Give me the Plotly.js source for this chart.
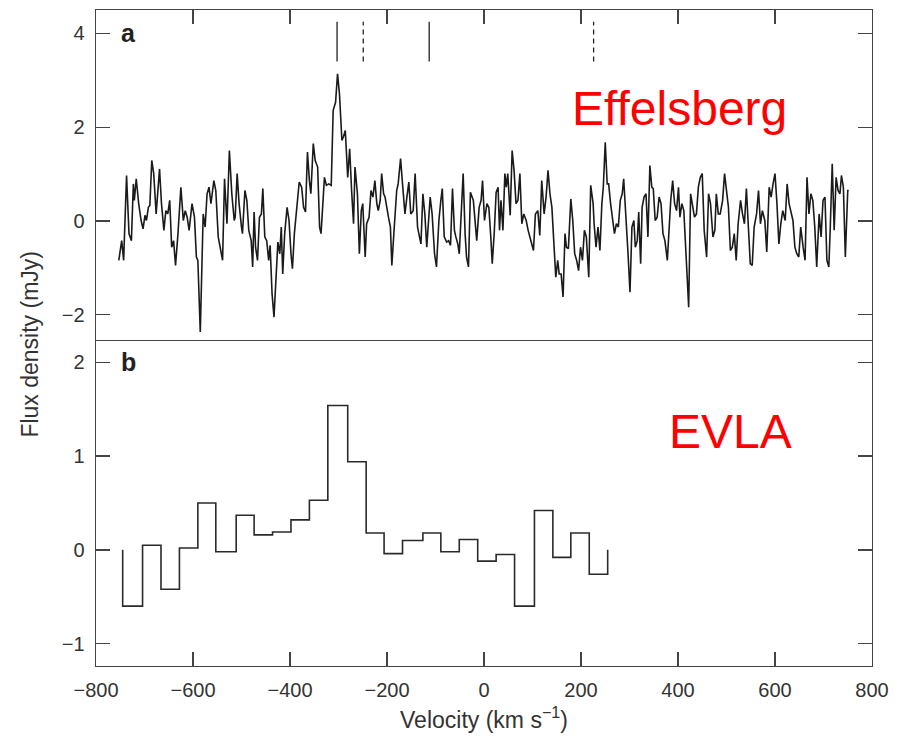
<!DOCTYPE html>
<html>
<head>
<meta charset="utf-8">
<script src="https://cdn.plot.ly/plotly-3.0.1.min.js"></script>
<style>html,body{margin:0;padding:0;background:#fff;}#chart{width:913px;height:741px;}</style>
</head>
<body>
<div id="chart"></div>
<script>
// Panel a: Effelsberg spectrum (velocity km/s, flux density mJy)
const effVel = [-753,-747,-743,-737,-732,-727,-723,-721,-717,-712,-707,-703,-699,-696,-692,-689,-685,-681,-676,-669,-665,-660,-656,-652,-648,-644,-640,-636,-631,-625,-620,-616,-612,-608,-602,-597,-593,-590,-585,-579,-575,-571,-567,-563,-557,-553,-548,-544,-539,-535,-530,-525,-520,-515,
-513,-509,-505,-500,-498,-493,-489,-485,-480,-477,-474,-471,-467,-463,-459,-456,-452,-448,-444,-441,-437,-433,-429,-425,-421,-418,-415,-411,-406,-402,-398,-395,-391,-386,-381,-376,-372,-368,-364,-360,-357,-352,-348,-343,-339,-336,-332,-329,-325,-320,-315,-311,-306,-302,-298,-293,-290,-286,-281,-277,-273,-269,
-266,-261,-257,-253,-250,-245,-242,-237,-233,-229,-225,-221,-218,-214,-211,-207,-204,-201,-197,-193,-190,-185,-180,-177,-172,-168,-163,-159,-155,-151,-146,-142,-137,-133,-130,-126,-122,-118,-115,-111,-107,-102,-98,-93,-89,-86,-82,-77,-73,-69,-65,-61,-58,-54,-51,-47,-43,-39,-36,-32,-28,-22,
-19,-15,-10,-6,-3,1,6,10,14,17,21,25,29,32,35,39,43,46,49,54,58,62,66,70,74,78,82,87,91,97,102,106,111,115,119,124,128,132,136,140,144,148,152,155,159,163,167,170,174,179,183,187,191,195,199,203,207,211,216,220,225,
227,231,235,239,243,246,250,254,257,261,265,269,273,277,281,285,288,292,297,301,305,309,312,316,319,323,326,330,334,338,342,346,349,353,357,361,365,369,373,378,382,385,389,393,397,401,404,408,412,417,422,426,430,434,438,442,446,450,454,459,463,467,472,
476,479,483,487,492,496,500,504,508,512,516,520,524,529,533,537,541,545,549,553,557,562,566,570,574,579,583,588,592,596,600,604,608,612,616,621,625,629,633,637,641,645,649,653,658,662,666,670,674,678,682,686,691,695,699,703,707,711,714,718,722,726,730,734,737,741,745,750,752];
const effFlux = [-0.84,-0.42,-0.84,0.97,-0.27,-0.42,0.79,0.44,0.90,0.37,0.01,-0.17,0.12,0.01,0.29,0.33,1.29,1.01,0.15,1.11,0.37,-0.20,0.22,0.15,0.44,-0.56,-0.42,-0.95,-0.27,0.72,0.01,0.22,0.08,-0.20,0.37,0.08,-0.77,-0.84,-2.37,0.15,-0.13,0.58,0.72,0.37,0.86,0.65,-0.34,-0.56,-0.84,0.90,-0.06,1.50,0.58,0.01,
0.08,1.01,0.37,-0.13,-0.27,0.65,0.44,-0.20,-0.42,-0.98,0.19,-0.56,-0.84,0.08,0.15,0.69,-0.34,-0.42,-0.84,-0.52,-1.55,-2.05,-1.13,-0.45,-0.70,-0.13,-1.13,-0.27,0.29,0.01,-0.70,-1.02,-0.27,0.37,0.83,0.72,0.29,0.19,1.47,0.86,0.58,1.65,1.29,1.15,-0.13,-0.27,0.51,0.93,0.76,0.79,0.76,2.36,2.53,3.14,2.71,1.72,1.79,1.93,0.93,1.54,0.65,-0.06,
1.15,0.58,-0.70,0.22,0.37,-0.77,-0.06,0.08,0.65,0.51,0.86,0.37,0.22,0.44,1.01,0.58,0.51,0.29,0.08,-0.13,-0.95,-0.13,0.65,0.79,1.33,0.79,0.15,0.51,0.83,0.15,0.22,1.01,-0.13,-0.34,-0.49,0.58,0.15,-0.56,0.01,0.51,0.15,-0.70,-0.98,0.01,0.44,0.69,-0.34,-0.45,-0.42,-0.52,0.69,-0.20,-0.34,-0.49,-0.70,0.29,1.01,-0.27,-0.77,-0.98,0.61,0.44,
0.01,-0.42,0.29,0.44,0.86,0.01,0.37,0.29,-0.34,-0.91,-0.27,0.61,0.72,-0.20,0.44,-0.20,1.01,0.72,1.01,0.12,1.50,1.08,0.37,0.44,1.01,-0.06,0.15,0.01,-0.20,-0.42,-0.63,0.15,0.22,-0.31,0.86,0.15,0.51,1.08,0.58,0.29,-0.42,-1.20,-0.84,-1.13,-1.13,-1.62,-0.27,-0.56,-0.59,0.47,0.01,-0.70,-0.84,-1.06,-0.56,-0.84,-0.20,-0.34,-1.20,0.76,0.37,
-0.06,-0.56,-0.13,-0.63,0.37,0.72,1.68,0.79,0.79,0.37,0.05,-0.27,-0.06,-0.13,0.44,0.58,0.90,0.29,-0.70,-1.52,-0.13,0.01,-0.56,-0.42,0.19,-0.91,0.29,0.51,0.58,-0.34,1.18,0.72,0.69,0.01,0.08,0.51,0.37,-0.27,-0.42,-0.84,0.08,0.44,0.86,0.37,0.22,0.72,0.08,0.37,0.22,-0.84,-1.84,0.58,0.29,0.08,0.15,0.72,0.93,1.01,-0.20,-0.77,0.58,0.37,-0.34,
-0.20,0.58,0.15,0.15,0.44,1.01,0.58,0.29,-0.63,-0.56,-0.27,-0.84,-0.06,0.44,0.15,-0.06,0.69,0.01,-0.91,-0.95,-0.13,0.15,0.65,-0.06,0.22,0.01,-0.66,0.72,0.51,0.79,1.01,0.37,-0.49,-0.06,0.22,0.01,0.79,0.37,0.22,0.01,-0.56,-0.70,-0.77,-0.13,-0.56,-0.84,0.93,0.15,0.58,0.44,-0.13,-0.98,0.15,-0.34,0.44,0.51,-0.84,-0.98,-0.13,1.22,-0.20,0.93,0.65,0.58,0.97,0.72,-0.77,0.65,0.65];

// Line-velocity markers above the spectrum
const markerVel = [-303, -249, -113, 226];
const markerDash = ['solid', 'dash', 'solid', 'dash'];

// Panel b: EVLA binned spectrum (channel edges in km/s, flux per channel in mJy)
const evlaEdges = [-745,-704,-666,-628,-590,-553,-511,-474,-436,-398,-360,-322,-281,-243,-206,-168,-126,-89,-51,-13,25,63,104,142,179,217,255];
const evlaFlux = [-0.60,0.05,-0.42,0.02,0.50,-0.02,0.37,0.16,0.19,0.32,0.53,1.54,0.94,0.18,-0.04,0.10,0.18,-0.02,0.11,-0.12,-0.05,-0.60,0.42,-0.08,0.18,-0.26];

const xTicks = [-800,-600,-400,-200,0,200,400,600,800];
const yTicksA = [-2,0,2,4];
const yTicksB = [-1,0,1,2];

const FONT = 'Liberation Sans, Arial, Helvetica, sans-serif';
const AX = '#444';

// build step outline for EVLA histogram
const stepX = [evlaEdges[0]];
const stepY = [0];
for (let i = 0; i < evlaFlux.length; i++) { stepX.push(evlaEdges[i]); stepY.push(evlaFlux[i]); }
stepX.push(evlaEdges[evlaEdges.length - 1]); stepY.push(0);

const traces = [
  {x: effVel, y: effFlux, xaxis: 'x2', yaxis: 'y2', mode: 'lines', line: {color: '#1a1a1a', width: 1.6}, hoverinfo: 'skip'},
  {x: stepX, y: stepY, xaxis: 'x', yaxis: 'y', mode: 'lines', line: {color: '#2a2a2a', width: 1.6, shape: 'hv'}, hoverinfo: 'skip'}
];
const markTop = 4.25, markBot = 3.40;
markerVel.forEach((v, i) => {
  traces.push({x: [v, v], y: [markBot, markTop], xaxis: 'x2', yaxis: 'y2', mode: 'lines',
    line: {color: '#222', width: 1.3, dash: markerDash[i] === 'dash' ? '5px,4px' : 'solid'}, hoverinfo: 'skip'});
});

const tickFont = {family: FONT, size: 20, color: '#333'};
const common = {showgrid: false, zeroline: false, showline: true, linecolor: AX, linewidth: 1.4,
  ticks: 'inside', ticklen: 14, tickwidth: 1.3, tickcolor: AX, tickfont: tickFont};

const layout = {
  width: 913, height: 741,
  margin: {l: 96, r: 41, t: 10, b: 75},
  paper_bgcolor: '#fff', plot_bgcolor: '#fff',
  showlegend: false,
  font: {family: FONT, color: '#333'},
  xaxis: Object.assign({}, common, {anchor: 'y', domain: [0, 1], range: [-800, 800], tickvals: xTicks,
    mirror: false, ticklabelstandoff: 6,
    title: {text: 'Velocity (km s<sup>−1</sup>)', font: {family: FONT, size: 23, color: '#333'}, standoff: 11}}),
  xaxis2: Object.assign({}, common, {anchor: 'y2', domain: [0, 1], range: [-800, 800], tickvals: xTicks,
    side: 'top', mirror: true, showticklabels: false}),
  yaxis: Object.assign({}, common, {anchor: 'x', domain: [0, 0.4974], range: [-1.239, 2.242], tickvals: yTicksB,
    mirror: 'ticks', ticklabelstandoff: 6}),
  yaxis2: Object.assign({}, common, {anchor: 'x2', domain: [0.4974, 1], range: [-2.533, 4.5], tickvals: yTicksA,
    mirror: 'ticks', ticklabelstandoff: 6}),
  annotations: [
    {text: 'a', xref: 'x2', yref: 'y2', x: -733, y: 4.0, showarrow: false, xanchor: 'center', yanchor: 'middle',
      font: {family: FONT, size: 25, color: '#222', weight: 'bold'}},
    {text: 'b', xref: 'x', yref: 'y', x: -733, y: 2.0, showarrow: false, xanchor: 'center', yanchor: 'middle',
      font: {family: FONT, size: 25, color: '#222', weight: 'bold'}},
    {text: 'Effelsberg', xref: 'x2', yref: 'y2', x: 404, y: 2.40, showarrow: false, xanchor: 'center', yanchor: 'middle',
      font: {family: FONT, size: 48, color: '#ff0000'}},
    {text: 'EVLA', xref: 'x', yref: 'y', x: 508, y: 1.26, showarrow: false, xanchor: 'center', yanchor: 'middle',
      font: {family: FONT, size: 48, color: '#ff0000'}},
    {text: 'Flux density (mJy)', xref: 'paper', yref: 'paper', x: -0.085, y: 0.49, textangle: -90, showarrow: false,
      xanchor: 'center', yanchor: 'middle', font: {family: FONT, size: 23, color: '#333'}}
  ]
};

Plotly.newPlot('chart', traces, layout, {displayModeBar: false, staticPlot: true});
</script>
</body>
</html>
